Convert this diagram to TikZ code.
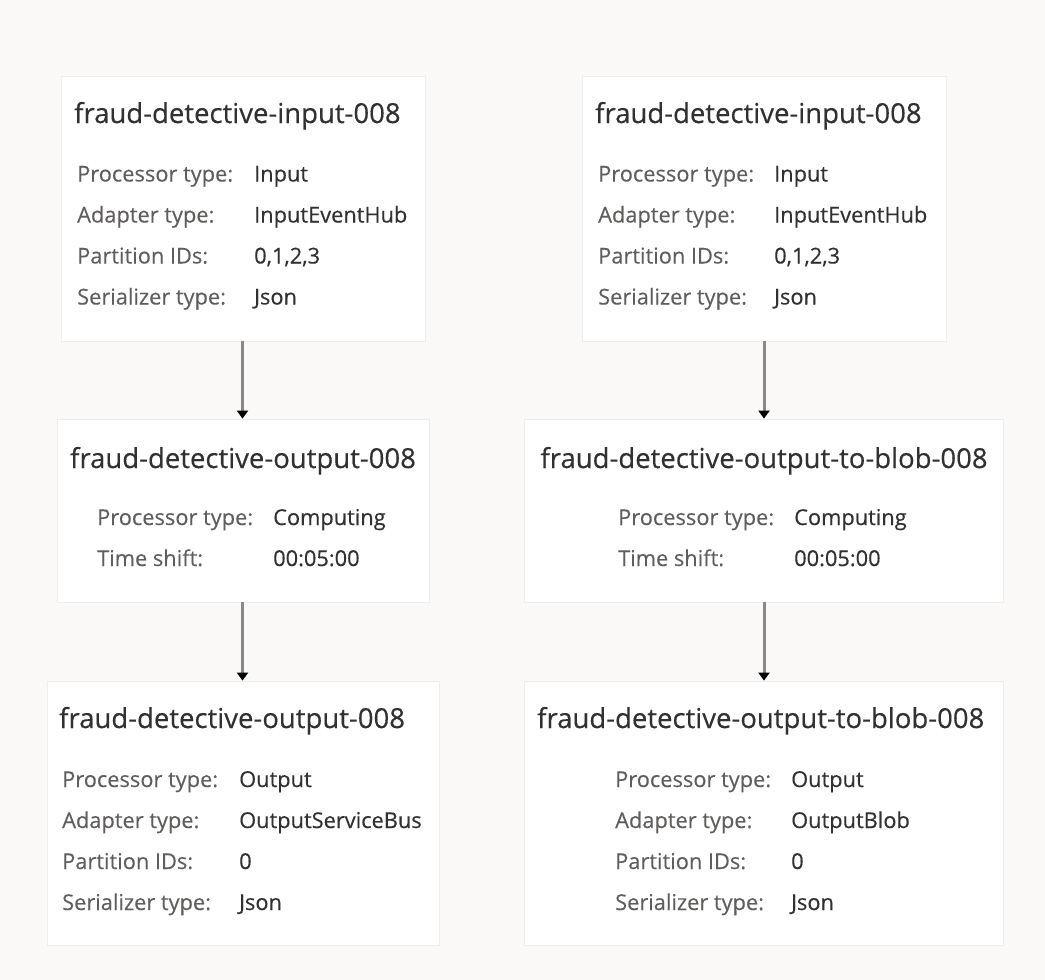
\documentclass[tikz,border=0pt]{standalone}
\usepackage{fontspec}
\setmainfont{Open Sans}
\newfontfamily\medfont{Open Sans}[FakeBold=0.35]
\newfontfamily\labfont{Open Sans}[FakeBold=0.2]
\usetikzlibrary{arrows.meta}
\definecolor{bg}{HTML}{FAF9F8}
\definecolor{ttlc}{HTML}{323130}
\definecolor{labc}{HTML}{605E5C}
\definecolor{valc}{HTML}{323130}
\definecolor{linec}{HTML}{8A8886}
\begin{document}
\begin{tikzpicture}[x=1pt,y=-1pt,
  box/.style={rectangle, fill=white, draw=black!7, line width=0.8pt, inner sep=0pt},
  ttl/.style={inner sep=0pt, text=ttlc, font=\medfont\fontsize{27.5}{32}\selectfont},
  lab/.style={inner sep=0pt, anchor=base west, text=labc, font=\labfont\fontsize{21.8}{26}\selectfont},
  val/.style={inner sep=0pt, anchor=base west, text=valc, font=\medfont\fontsize{21.8}{26}\selectfont},
  arr/.style={draw=linec, line width=3pt, -{Triangle[width=11pt,length=8pt,color=black]}, shorten >=0pt}
]
\fill[bg] (0,0) rectangle (1045,980);
\useasboundingbox (0,0) rectangle (1045,980);

% boxes
\node[box, minimum width=364pt, minimum height=265pt] (a1) at (243,208.5) {};
\node[box, minimum width=364pt, minimum height=265pt] (b1) at (764,208.5) {};
\node[box, minimum width=372pt, minimum height=183pt] (a2) at (243,510.5) {};
\node[box, minimum width=479pt, minimum height=183pt] (b2) at (763.5,510.5) {};
\node[box, minimum width=392pt, minimum height=264pt] (a3) at (243,813) {};
\node[box, minimum width=479pt, minimum height=264pt] (b3) at (763.5,813) {};

% connectors
\draw[arr] ([xshift=-0.5pt]a1.south) -- ([xshift=-0.5pt]a1.south |- a2.north);
\draw[arr] ([xshift=-0.5pt]a2.south) -- ([xshift=-0.5pt]a2.south |- a3.north);
\draw[arr] (b1.south) -- (b1.south |- b2.north);
\draw[arr] (b2.south -| b1.south) -- (b1.south |- b3.north);

% A1
\node[ttl, anchor=base west] (a1t) at (74,123) {fraud-detective-input-008};
\node[lab] (a1l1) at (77,181.5) {Processor type:};
\node[val] (a1v1) at (254,181.5) {Input};
\node[lab] (a1l2) at (77,222.5) {Adapter type:};
\node[val] (a1v2) at (254,222.5) {InputEventHub};
\node[lab] (a1l3) at (77,263.5) {Partition IDs:};
\node[val] (a1v3) at (254,263.5) {0,1,2,3};
\node[lab] (a1l4) at (77,304.5) {Serializer type:};
\node[val] (a1v4) at (254,304.5) {Json};

% B1
\node[ttl, anchor=base west] (b1t) at (595,123) {fraud-detective-input-008};
\node[lab] (b1l1) at (598,181.5) {Processor type:};
\node[val] (b1v1) at (774,181.5) {Input};
\node[lab] (b1l2) at (598,222.5) {Adapter type:};
\node[val] (b1v2) at (774,222.5) {InputEventHub};
\node[lab] (b1l3) at (598,263.5) {Partition IDs:};
\node[val] (b1v3) at (774,263.5) {0,1,2,3};
\node[lab] (b1l4) at (598,304.5) {Serializer type:};
\node[val] (b1v4) at (774,304.5) {Json};

% A2
\node[ttl, anchor=base] (a2t) at (243,468) {fraud-detective-output-008};
\node[lab] (a2l1) at (97,525) {Processor type:};
\node[val] (a2v1) at (273,525) {Computing};
\node[lab] (a2l2) at (97,566) {Time shift:};
\node[val] (a2v2) at (273,566) {00:05:00};

% B2
\node[ttl, anchor=base] (b2t) at (764,468) {fraud-detective-output-to-blob-008};
\node[lab] (b2l1) at (618,525) {Processor type:};
\node[val] (b2v1) at (794,525) {Computing};
\node[lab] (b2l2) at (618,566) {Time shift:};
\node[val] (b2v2) at (794,566) {00:05:00};

% A3
\node[ttl, anchor=base west] (a3t) at (59,728) {fraud-detective-output-008};
\node[lab] (a3l1) at (62,787) {Processor type:};
\node[val] (a3v1) at (239,787) {Output};
\node[lab] (a3l2) at (62,828) {Adapter type:};
\node[val] (a3v2) at (239,828) {OutputServiceBus};
\node[lab] (a3l3) at (62,869) {Partition IDs:};
\node[val] (a3v3) at (239,869) {0};
\node[lab] (a3l4) at (62,910) {Serializer type:};
\node[val] (a3v4) at (239,910) {Json};

% B3
\node[ttl, anchor=base west] (b3t) at (537,728) {fraud-detective-output-to-blob-008};
\node[lab] (b3l1) at (615,787) {Processor type:};
\node[val] (b3v1) at (791,787) {Output};
\node[lab] (b3l2) at (615,828) {Adapter type:};
\node[val] (b3v2) at (791,828) {OutputBlob};
\node[lab] (b3l3) at (615,869) {Partition IDs:};
\node[val] (b3v3) at (791,869) {0};
\node[lab] (b3l4) at (615,910) {Serializer type:};
\node[val] (b3v4) at (791,910) {Json};
\end{tikzpicture}
\end{document}
